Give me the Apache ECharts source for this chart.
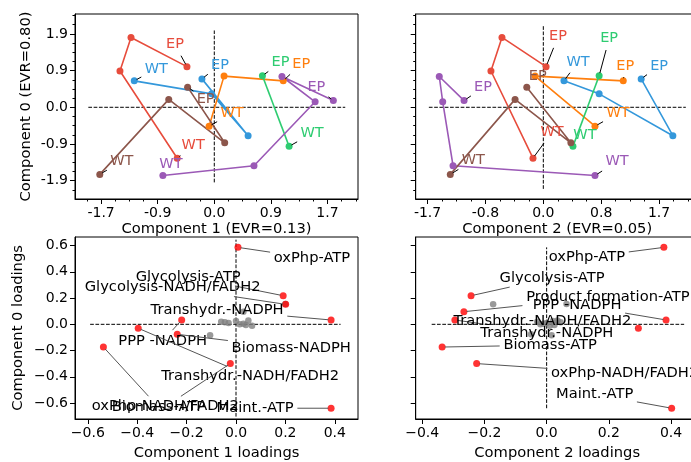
<!DOCTYPE html>
<html>
<head>
<meta charset="utf-8">
<script src="https://cdn.jsdelivr.net/npm/echarts@6/dist/echarts.min.js"></script>
<style>
html,body{margin:0;padding:0;background:#fff}
#chart{width:691px;height:462px}
</style>
</head>
<body>
<div id="chart"></div>
<script>
// ---- scores: one track per colour, points ordered EP -> WT ----
const trackColors = ['#e74c3c', '#3498db', '#ff7f0e', '#2ecc71', '#9b59b6', '#8c564b'];
const endLabels = ['EP', 'WT'];
const trackC0 = [
  [1.03, 1.77, 0.92, -1.29],
  [0.72, -0.72, 0.34, 0.67],
  [0.67, 0.79, -0.48],
  [0.80, -0.99],
  [0.17, 0.78, 0.14, -1.48, -1.73],
  [0.51, -0.90, 0.20, -1.70]
];
const trackC1 = [
  [-0.42, -1.28, -1.45, -0.57],
  [-0.19, 0.52, -0.04, -1.23],
  [1.06, 0.15, -0.08],
  [0.74, 1.15],
  [1.83, 1.04, 1.55, 0.61, -0.79],
  [-0.41, 0.16, -0.70, -1.76]
];
const trackC2 = [
  [0.04, -0.60, -0.76, -0.15],
  [1.42, 1.88, 0.81, 0.30],
  [1.16, -0.12, 0.75],
  [0.81, 0.43],
  [-1.15, -1.51, -1.46, -1.31, 0.75],
  [-0.24, 0.40, -0.41, -1.35]
];

// ---- loadings ----
const loadNames = ['oxPhp-ATP', 'Glycolysis-ATP', 'Glycolysis-NADH/FADH2', 'Transhydr.-NADPH',
  'PPP -NADPH', 'Transhydr.-NADH/FADH2', 'Biomass-NADPH', 'Biomass-ATP',
  'oxPhp-NADH/FADH2', 'Maint.-ATP', 'Product formation-ATP'];
const loadC0 = [0.586, 0.218, 0.152, 0.033, 0.033, -0.030, -0.076, -0.173, -0.299, -0.639, 0.096];
const loadC1 = [0.008, 0.191, 0.201, 0.385, -0.220, -0.396, -0.238, -0.537, -0.023, 0.385, 0.030];
const loadC2 = [0.377, -0.243, -0.172, -0.295, 0.384, 0.295, -0.050, -0.336, -0.225, 0.402, -0.266];
// unlabelled loadings (grey)
const otherC0 = [0.155, -0.084, 0.020, 0.010, 0.025, 0.005, 0.030, -0.010, 0.015, 0.000, -0.005];
const otherC1 = [0.200, -0.105, -0.060, -0.030, 0.000, 0.030, 0.050, 0.065, -0.045, 0.015, 0.040];
const otherC2 = [0.064, 0.016, -0.030, 0.000, 0.020, -0.010, 0.035, 0.010, 0.045, -0.020, 0.025];

// ---- tick values ----
const tlXTicks = [-1.74, -0.87, 0, 0.87, 1.74];
const tlYTicks = [-1.86, -0.93, 0, 0.93, 1.86];
const trXTicks = [-1.68, -0.84, 0, 0.84, 1.68];
const blXTicks = [-0.6, -0.4, -0.2, 0, 0.2, 0.4];
const brXTicks = [-0.4, -0.2, 0, 0.2, 0.4];
const bYTicks = [-0.6, -0.4, -0.2, 0, 0.2, 0.4, 0.6];

// label offsets in px (label centre relative to point): [epDx, epDy, wtDx, wtDy]
const tlOffsets = [[-12, -22, 16, -13], [18, -14, 22, -12], [18, -17, 23, -13],
  [18, -13, 23, -13], [-17, -13, 8, -11], [18, 12, 22, -13]];
const trOffsets = [[12, -30, 19, -26], [18, -13, 14, -19], [2, -15, 23, -13],
  [10, -37, 12, -11], [19, -13, 22, -14], [11, -11, 23, -14]];
// per loading name, null = not labelled (grey)
const blOffsets = [[74, 11], [-95, -19], [-113, -17], [-114, -10], [-19, 21], [112, 48],
  [114, 14], [55, 60], [-65, 43], [-76, 0], null];
const brOffsets = [[-77, 10], [81, -18], null, [92, 13], [-89, -15], [-96, -7],
  null, [108, -2], [148, 10], [-77, -14], [144, -15]];

const FONT = 'DejaVu Sans';
const chart = echarts.init(document.getElementById('chart'));

const measureCtx = document.createElement('canvas').getContext('2d');
function textWidth(s, size) {
  measureCtx.font = size + 'px "' + FONT + '"';
  return measureCtx.measureText(s).width;
}

function minorTicks(min, max, step) {
  const out = [];
  for (let k = Math.ceil(min / step); k * step <= max; k++) out.push(+(k * step).toFixed(4));
  return out;
}

function mainAxis(gridIndex, min, max, ticks, showLabels, pos, fmt, name, nameGap) {
  return {
    type: 'value', gridIndex, min, max, position: pos,
    name: name || '', nameLocation: 'middle', nameGap: nameGap || 0,
    nameTextStyle: {fontFamily: FONT, fontSize: 14.7, color: '#000'},
    splitLine: {show: false},
    axisLine: {show: true, onZero: false, lineStyle: {color: '#000', width: 1}},
    axisTick: {show: true, customValues: ticks, length: 5, lineStyle: {color: '#000', width: 1}},
    axisLabel: {show: showLabels, customValues: ticks, color: '#000', fontFamily: FONT,
      fontSize: 14, margin: 7, formatter: fmt}
  };
}
function minorAxis(gridIndex, min, max, step, pos) {
  return {
    type: 'value', gridIndex, min, max, position: pos,
    splitLine: {show: false},
    axisLine: {show: false, onZero: false},
    axisLabel: {show: false},
    axisTick: {show: true, customValues: minorTicks(min, max, step), length: 2.5,
      lineStyle: {color: '#000', width: 1}}
  };
}
const fmtHyphen = v => v.toFixed(1);
const fmtMinus = v => v.toFixed(1).replace('-', '\u2212');

const grids = [
  {left: 75, top: 14, width: 283, height: 185},
  {left: 415.7, top: 14, width: 283, height: 185},
  {left: 75, top: 237, width: 283, height: 182},
  {left: 415.7, top: 237, width: 283, height: 182}
].map(g => Object.assign(g, {show: true, borderColor: '#000', borderWidth: 1,
  containLabel: false, outerBoundsMode: 'none'}));

const tlX = [-2.141, 2.209], tlY = [-2.324, 2.364], trX = [-1.852, 2.255];
const blX = [-0.652, 0.494], bY = [-0.721, 0.665], brX = [-0.421, 0.489];

const xAxes = [
  mainAxis(0, tlX[0], tlX[1], tlXTicks, true, 'bottom', fmtHyphen, 'Component 1 (EVR=0.13)', 23),
  minorAxis(0, tlX[0], tlX[1], 0.2175, 'bottom'),
  mainAxis(1, trX[0], trX[1], trXTicks, true, 'bottom', fmtHyphen, 'Component 2 (EVR=0.05)', 23),
  minorAxis(1, trX[0], trX[1], 0.21, 'bottom'),
  mainAxis(2, blX[0], blX[1], blXTicks, true, 'bottom', fmtMinus, 'Component 1 loadings', 27),
  mainAxis(3, brX[0], brX[1], brXTicks, true, 'bottom', fmtMinus, 'Component 2 loadings', 27)
];
const yAxes = [
  mainAxis(0, tlY[0], tlY[1], tlYTicks, true, 'left', fmtHyphen, 'Component 0 (EVR=0.80)', 41),
  minorAxis(0, tlY[0], tlY[1], 0.2325, 'left'),
  mainAxis(1, tlY[0], tlY[1], tlYTicks, false, 'left', fmtHyphen),
  minorAxis(1, tlY[0], tlY[1], 0.2325, 'left'),
  mainAxis(2, bY[0], bY[1], bYTicks, true, 'left', fmtMinus, 'Component 0 loadings', 49),
  mainAxis(3, bY[0], bY[1], bYTicks, false, 'left', fmtMinus)
];

// annotation text + connector drawn from data point + pixel offset
function labelSeries(xi, yi, items, size, lineColor) {
  return {
    type: 'custom', xAxisIndex: xi, yAxisIndex: yi, clip: false, silent: true, z: 20,
    data: items.map(d => d.value),
    renderItem: function (params, api) {
      const d = items[params.dataIndex];
      const p = api.coord([api.value(0), api.value(1)]);
      const cx = p[0] + d.dx, cy = p[1] + d.dy;
      const hw = textWidth(d.text, size) / 2 + 1, hh = size * 0.6;
      const vx = p[0] - cx, vy = p[1] - cy, len = Math.hypot(vx, vy);
      const children = [];
      const t = Math.min(vx ? hw / Math.abs(vx) : Infinity, vy ? hh / Math.abs(vy) : Infinity);
      const s = 2.7 / len;
      if (t + s < 1 - s) {
        children.push({type: 'line', shape: {x1: cx + vx * (t + s), y1: cy + vy * (t + s),
          x2: p[0] - vx * s, y2: p[1] - vy * s}, style: {stroke: lineColor, lineWidth: 1}});
      }
      children.push({type: 'text', x: cx, y: cy, style: {text: d.text, fill: d.color,
        font: size + 'px "' + FONT + '"', align: 'center', verticalAlign: 'middle'}});
      return {type: 'group', children};
    }
  };
}

// dashed zero lines, their reach taken from the data extent
function extent(arr, f) { return [f * Math.min(...arr), f * Math.max(...arr)]; }
function symExtent(arr, f) { const m = f * Math.max(...arr.map(Math.abs)); return [-m, m]; }
function zeroLines(xi, yi, ex, ey) {
  const st = {color: '#000', width: 1, type: [3.7, 1.6]};
  return [
    {type: 'line', xAxisIndex: xi, yAxisIndex: yi, data: [[ex[0], 0], [ex[1], 0]],
      symbol: 'none', lineStyle: st, z: 1, silent: true},
    {type: 'line', xAxisIndex: xi, yAxisIndex: yi, data: [[0, ey[0]], [0, ey[1]]],
      symbol: 'none', lineStyle: st, z: 1, silent: true}
  ];
}

const series = [];
const allC0 = trackC0.flat(), allC1 = trackC1.flat(), allC2 = trackC2.flat();
series.push(...zeroLines(0, 0, extent(allC1, 1.1), extent(allC0, 1.1)));
series.push(...zeroLines(2, 2, extent(allC2, 1.1), symExtent(allC2, 1.1)));

// score tracks
const tlLabels = [], trLabels = [];
trackC0.forEach((c0, t) => {
  const color = trackColors[t];
  const base = {type: 'line', symbol: 'circle', symbolSize: 7, showSymbol: true, color,
    lineStyle: {width: 1.6, color}, itemStyle: {color}, z: 3, silent: true};
  series.push(Object.assign({}, base, {xAxisIndex: 0, yAxisIndex: 0,
    data: trackC1[t].map((x, i) => [x, c0[i]])}));
  series.push(Object.assign({}, base, {xAxisIndex: 2, yAxisIndex: 2,
    data: trackC2[t].map((x, i) => [x, c0[i]])}));
  [0, c0.length - 1].forEach((i, k) => {
    tlLabels.push({value: [trackC1[t][i], c0[i]], text: endLabels[k], color,
      dx: tlOffsets[t][2 * k], dy: tlOffsets[t][2 * k + 1]});
    trLabels.push({value: [trackC2[t][i], c0[i]], text: endLabels[k], color,
      dx: trOffsets[t][2 * k], dy: trOffsets[t][2 * k + 1]});
  });
});
series.push(labelSeries(0, 0, tlLabels, 14.5, '#000'));
series.push(labelSeries(2, 2, trLabels, 14.5, '#000'));

// loadings panels
function loadingPanel(xi, yi, cx, ox, offsets, fy) {
  const ys = loadC0.concat(otherC0);
  series.push(...zeroLines(xi, yi, extent(cx.concat(ox), 1.1), extent(ys, fy)));
  const grey = otherC0.map((y, i) => [ox[i], y]);
  const red = [], labels = [];
  loadNames.forEach((n, i) => {
    if (offsets[i]) {
      red.push([cx[i], loadC0[i]]);
      labels.push({value: [cx[i], loadC0[i]], text: n, color: '#000',
        dx: offsets[i][0], dy: offsets[i][1]});
    } else {
      grey.push([cx[i], loadC0[i]]);
    }
  });
  series.push({type: 'scatter', xAxisIndex: xi, yAxisIndex: yi, data: grey, symbolSize: 6.5,
    itemStyle: {color: '#808080', opacity: 0.8}, z: 2, silent: true});
  series.push({type: 'scatter', xAxisIndex: xi, yAxisIndex: yi, data: red, symbolSize: 7,
    itemStyle: {color: '#ff0000'}, z: 3, silent: true});
  series.push(labelSeries(xi, yi, labels, 14.7, '#555'));
}
loadingPanel(4, 4, loadC1, otherC1, blOffsets, 1.1);
loadingPanel(5, 5, loadC2, otherC2, brOffsets, 1.0);

chart.setOption({
  animation: false,
  backgroundColor: '#fff',
  grid: grids,
  xAxis: xAxes,
  yAxis: yAxes,
  series
});
window.addEventListener('resize', () => chart.resize());
</script>
</body>
</html>
